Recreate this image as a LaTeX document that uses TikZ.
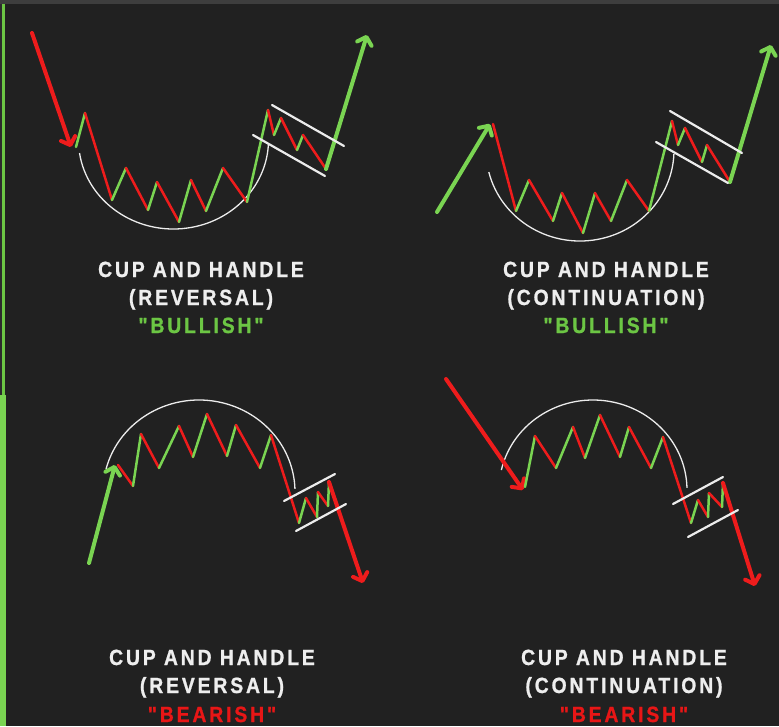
\documentclass[tikz,border=0pt]{standalone}
\usepackage{fontspec}
\newfontfamily\labfont[FakeStretch=0.88,LetterSpace=13,FakeBold=1]{Liberation Sans}
\usetikzlibrary{arrows.meta}
\definecolor{bg}{RGB}{33,33,33}
\definecolor{topband}{RGB}{62,62,62}
\definecolor{edgedark}{RGB}{44,44,44}
\definecolor{gline}{RGB}{122,212,82}
\definecolor{rline}{RGB}{238,28,28}
\definecolor{gtext}{RGB}{108,198,68}
\definecolor{rtext}{RGB}{232,22,22}
\definecolor{wtext}{RGB}{238,238,238}
\definecolor{cupc}{RGB}{236,236,236}
\begin{document}
\begin{tikzpicture}[x=1pt,y=1pt,yscale=-1,
  up/.style={draw=gline,line width=2.5,line cap=round},
  dn/.style={draw=rline,line width=2.5,line cap=round},
  uparr/.style={draw=gline,line width=4,line cap=round,-{Straight Barb[length=7pt,width=15pt,round]}},
  dnarr/.style={draw=rline,line width=4,line cap=round,-{Straight Barb[length=7pt,width=15pt,round]}},
  cup/.style={draw=cupc,line width=1.3},
  chan/.style={draw=cupc,line width=2.2,line cap=round},
  lab/.style={font=\labfont\bfseries\fontsize{22}{22}\selectfont,text=wtext,anchor=base,inner sep=0pt},
  labg/.style={lab,text=gtext},
  labr/.style={lab,text=rtext}]
\useasboundingbox (0,0) rectangle (779,726);
\fill[bg] (0,0) rectangle (779,726);
\fill[topband] (0,0) rectangle (779,4);
\fill[edgedark] (0,4) rectangle (2,395);
\fill[gtext] (2,4) rectangle (4.5,395);
\fill[gline] (0,395) rectangle (6,726);

% ---------- top left: reversal bullish ----------
\draw[cup] (173.5,140) ++(171.6:95 and 89) arc[start angle=171.6,end angle=3.2,x radius=95,y radius=89];
\coordinate (ta0) at (32,33);  \coordinate (ta1) at (71,147);
\draw[dnarr] (ta0) -- (ta1);
\foreach \n/\p in {0/{76,147},1/{85,113},2/{112,200},3/{126,168},4/{148,210},5/{157,182},6/{179,222},7/{191,180},8/{206,211},9/{223,168},10/{247,202},11/{268,110},12/{274,135},13/{281,118},14/{297,150},15/{303,135},16/{326,169},17/{367,35}}
  \coordinate (t\n) at (\p);
\foreach \i in {0,...,15}{\pgfmathtruncatemacro\j{\i+1}\ifodd\i\def\st{dn}\else\def\st{up}\fi\draw[\st] (t\i) -- (t\j);}
\draw[uparr] (t16) -- (t17);
\coordinate (tc1) at (272,105); \coordinate (tc2) at (344,146);
\coordinate (tc3) at (253,135); \coordinate (tc4) at (325,176);
\draw[chan] (tc1) -- (tc2);
\draw[chan] (tc3) -- (tc4);

% ---------- top right: continuation bullish ----------
\draw[cup] (580,150) ++(166:94 and 91) arc[start angle=166,end angle=2.5,x radius=94,y radius=91];
\coordinate (ra0) at (437,212); \coordinate (ra1) at (490,124);
\draw[uparr] (ra0) -- (ra1);
\foreach \n/\p in {0/{493,124},1/{516,211},2/{529,180},3/{553,221},4/{562,193},5/{583,233},6/{595,193},7/{611,221},8/{627,180},9/{649,211},10/{672,121},11/{678,145},12/{685,128},13/{702,162},14/{707,145},15/{730,182},16/{771,45}}
  \coordinate (r\n) at (\p);
\foreach \i in {0,...,14}{\pgfmathtruncatemacro\j{\i+1}\ifodd\i\def\st{up}\else\def\st{dn}\fi\draw[\st] (r\i) -- (r\j);}
\draw[uparr] (r15) -- (r16);
\coordinate (rc1) at (670,111); \coordinate (rc2) at (742,153);
\coordinate (rc3) at (656,142); \coordinate (rc4) at (728,183);
\draw[chan] (rc1) -- (rc2);
\draw[chan] (rc3) -- (rc4);

% ---------- bottom left: reversal bearish ----------
\draw[cup] (199,492) ++(194.5:96 and 92) arc[start angle=194.5,end angle=358,x radius=96,y radius=92];
\coordinate (ba0) at (89,563); \coordinate (ba1) at (115,465);
\draw[uparr] (ba0) -- (ba1);
\foreach \n/\p in {0/{118,465},1/{133,486},2/{141,434},3/{159,468},4/{179,426},5/{193,457},6/{207,414},7/{227,456},8/{236,425},9/{260,468},10/{271,435},11/{299,523},12/{306,498},13/{317,517},14/{318,492},15/{328,506},16/{329,482},17/{363,583}}
  \coordinate (b\n) at (\p);
\foreach \i in {0,...,15}{\pgfmathtruncatemacro\j{\i+1}\ifodd\i\def\st{up}\else\def\st{dn}\fi\draw[\st] (b\i) -- (b\j);}
\draw[dnarr] (b16) -- (b17);
\coordinate (bc1) at (284,501); \coordinate (bc2) at (335,474);
\coordinate (bc3) at (296,531); \coordinate (bc4) at (346,504);
\draw[chan] (bc1) -- (bc2);
\draw[chan] (bc3) -- (bc4);

% ---------- bottom right: continuation bearish ----------
\draw[cup] (593,490) ++(192.8:94 and 90) arc[start angle=192.8,end angle=358.7,x radius=94,y radius=90];
\coordinate (ga0) at (446,379); \coordinate (ga1) at (523,490);
\draw[dnarr] (ga0) -- (ga1);
\foreach \n/\p in {0/{525,487},1/{535,436},2/{556,468},3/{573,427},4/{585,458},5/{600,415},6/{620,457},7/{629,427},8/{651,468},9/{663,437},10/{691,523},11/{698,500},12/{708,517},13/{709,493},14/{722,507},15/{723,483},16/{755,586}}
  \coordinate (g\n) at (\p);
\foreach \i in {0,...,14}{\pgfmathtruncatemacro\j{\i+1}\ifodd\i\def\st{dn}\else\def\st{up}\fi\draw[\st] (g\i) -- (g\j);}
\draw[dnarr] (g15) -- (g16);
\coordinate (gc1) at (673,504); \coordinate (gc2) at (723,477);
\coordinate (gc3) at (688,537); \coordinate (gc4) at (738,510);
\draw[chan] (gc1) -- (gc2);
\draw[chan] (gc3) -- (gc4);

% ---------- labels ----------
\node[lab]  (l1a) at (201,277) {CUP AND HANDLE};
\node[lab]  (l1b) at (201,305) {(REVERSAL)};
\node[labg] (l1c) at (201,333) {"BULLISH"};
\node[lab]  (l2a) at (606,277) {CUP AND HANDLE};
\node[lab]  (l2b) at (606,305) {(CONTINUATION)};
\node[labg] (l2c) at (606,333) {"BULLISH"};
\node[lab]  (l3a) at (212,665) {CUP AND HANDLE};
\node[lab]  (l3b) at (212,693) {(REVERSAL)};
\node[labr] (l3c) at (212,722) {"BEARISH"};
\node[lab]  (l4a) at (624,665) {CUP AND HANDLE};
\node[lab]  (l4b) at (624,693) {(CONTINUATION)};
\node[labr] (l4c) at (624,722) {"BEARISH"};
\end{tikzpicture}
\end{document}
